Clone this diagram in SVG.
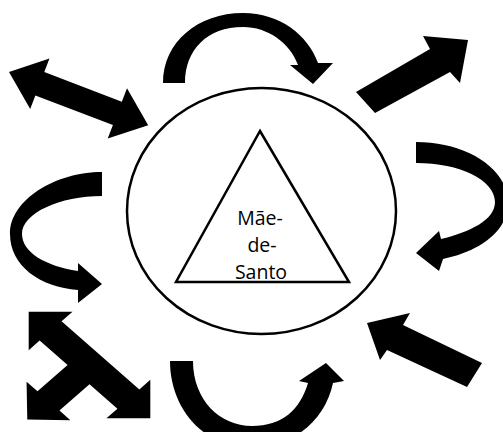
<svg xmlns="http://www.w3.org/2000/svg" width="503" height="432" viewBox="0 0 503 432">
<style>
.arr{fill:#000;stroke:none}
.ln{fill:none;stroke:#000;stroke-width:2.5}
.lbl{font-family:"Open Sans","Noto Sans",sans-serif;font-size:19.5px;fill:#000;text-anchor:middle}
</style>
<rect width="503" height="432" fill="#fff"/>
<g id="center">
<ellipse class="ln" cx="261.5" cy="211" rx="134.5" ry="123"/>
<polygon class="ln" points="260,131 349,282 176,282"/>
<text class="lbl" x="260" y="225">Mãe-</text>
<text class="lbl" x="262" y="252">de-</text>
<text class="lbl" x="261" y="279">Santo</text>
</g>
<g id="arrows">
<path id="a-top" class="arr" d="M163,83 C163,42 198,13 243,13 C280,13 308,35 318,63 L333,63 L313,84 L290,65 L298,65 C290,43 268,27 243,27 C207,27 185,50 185,83 Z"/>
<polygon id="a-topright" class="arr" points="356,92 430,49 423,36 468,40 460,83 450,72 375,113"/>
<polygon id="a-topleft" class="arr" transform="translate(9,72) rotate(20.9)" points="0,0 33,-27 33,-12.5 116,-12.5 116,-27 149,0 116,27 116,12.5 33,12.5 33,27"/>
<path id="a-right" class="arr" d="M416,142 C466,142 508,168 508,203 C508,232 478,252 443,259 L439,271 L416,253 L439,231 L441,239 C470,232 495,220 495,202 C495,180 460,163 416,163 Z"/>
<path id="a-left" class="arr" d="M102,172 C55,172 10,200 10,234 C10,266 40,287 78,290 L78,303 L102,284 L78,263 L78,271 C45,266 22,252 22,234 C22,213 60,196 102,196 Z"/>
<polygon id="a-bottomright" class="arr" points="367,323 410,313 403,325 482,363 467,387 387,350 380,360"/>
<path id="a-bottom" class="arr" d="M170,361 C170,405 200,447 250,447 C295,447 325,420 333,383 L344,381 L326,363 L299,381 L308,383 C300,410 282,426 252,426 C220,426 193,400 193,361 Z"/>
<polygon id="a-cross" class="arr" transform="translate(89.5,365) scale(1,0.876) rotate(45)" points="-86,0 -55,-31 -55,-15.5 55,-15.5 55,-31 86,0 55,31 55,15.5 15.5,15.5 15.5,58 31,58 0,88 -31,58 -15.5,58 -15.5,15.5 -55,15.5 -55,31"/>
</g>
</svg>
